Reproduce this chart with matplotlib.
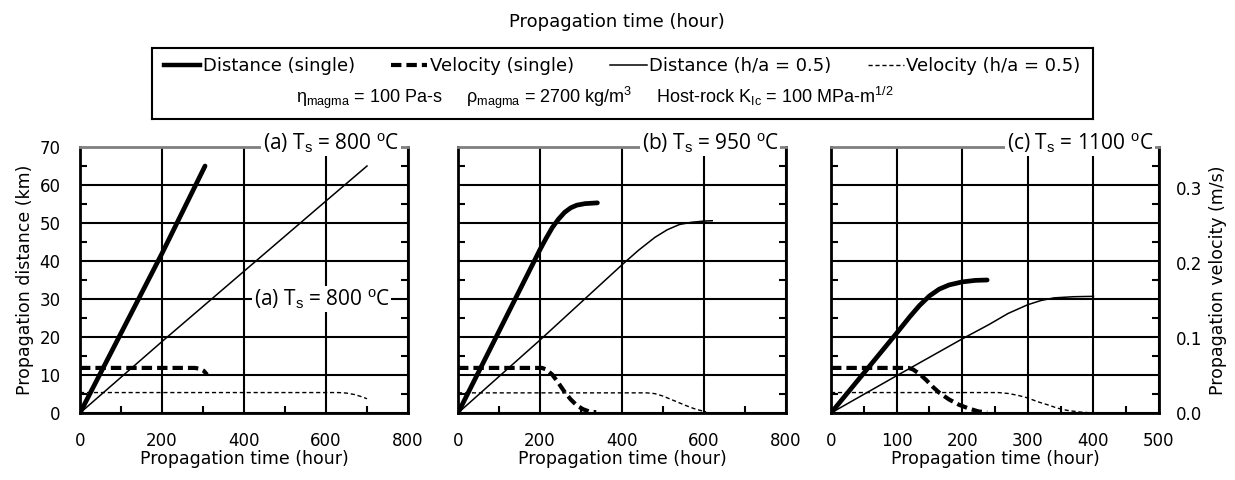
import matplotlib
matplotlib.use("Agg")
import matplotlib.pyplot as plt
from matplotlib.ticker import MultipleLocator
from matplotlib.lines import Line2D

plt.rcParams['font.family'] = ['DejaVu Sans']
plt.rcParams['mathtext.fontset'] = 'custom'
plt.rcParams['mathtext.rm'] = 'Liberation Sans'
plt.rcParams['mathtext.it'] = 'Liberation Sans'

# ---- data (time in hours, distance in km, velocity in m/s)
# (a) Ts = 800 C
a_dist_single_t = [0, 100, 200, 305]
a_dist_single = [0, 21, 42, 65]
a_vel_single_t = [0, 280, 292, 302, 310]
a_vel_single = [0.060, 0.060, 0.059, 0.056, 0.051]
a_dist_ha_t = [0, 200, 400, 600, 700]
a_dist_ha = [0, 18.8, 37.3, 55.8, 65]
a_vel_ha_t = [0, 630, 650, 670, 685, 700]
a_vel_ha = [0.0272, 0.0272, 0.0265, 0.0245, 0.022, 0.019]

# (b) Ts = 950 C
b_dist_single_t = [0, 100, 200, 215, 230, 245, 260, 275, 290, 310, 340]
b_dist_single = [0, 21.5, 43, 46, 48.8, 51, 52.8, 54, 54.7, 55.1, 55.3]
b_vel_single_t = [0, 205, 215, 230, 245, 260, 275, 290, 305, 320, 337]
b_vel_single = [0.060, 0.060, 0.058, 0.051, 0.040, 0.028, 0.018, 0.010, 0.005, 0.002, 0.001]
b_dist_ha_t = [0, 200, 400, 440, 480, 510, 540, 570, 600, 620]
b_dist_ha = [0, 19.2, 39, 42.8, 46.2, 48.2, 49.6, 50.2, 50.5, 50.6]
b_vel_ha_t = [0, 460, 480, 500, 520, 540, 560, 580, 605]
b_vel_ha = [0.0268, 0.0268, 0.0258, 0.0225, 0.018, 0.0135, 0.009, 0.005, 0.0015]

# (c) Ts = 1100 C
c_dist_single_t = [0, 50, 100, 120, 135, 150, 165, 180, 200, 220, 238]
c_dist_single = [0, 10.5, 21, 25.3, 28.3, 30.8, 32.6, 33.7, 34.5, 34.9, 35]
c_vel_single_t = [0, 118, 125, 135, 145, 155, 165, 180, 195, 210, 225, 238]
c_vel_single = [0.060, 0.060, 0.058, 0.052, 0.044, 0.035, 0.027, 0.018, 0.011, 0.006, 0.002, 0.001]
c_dist_ha_t = [0, 100, 200, 240, 270, 300, 320, 340, 370, 400]
c_dist_ha = [0, 9.8, 19.5, 23.2, 26.2, 28.5, 29.6, 30.3, 30.6, 30.7]
c_vel_ha_t = [0, 255, 270, 285, 300, 315, 330, 345, 360, 380, 400]
c_vel_ha = [0.0272, 0.0272, 0.026, 0.0235, 0.020, 0.015, 0.011, 0.0065, 0.0035, 0.0012, 0.0]

panels = [
    ("(a) T$_\\mathrm{s}$ = 800 $^\\mathrm{o}$C", 800, 200,
     a_dist_single_t, a_dist_single, a_vel_single_t, a_vel_single,
     a_dist_ha_t, a_dist_ha, a_vel_ha_t, a_vel_ha),
    ("(b) T$_\\mathrm{s}$ = 950 $^\\mathrm{o}$C", 800, 200,
     b_dist_single_t, b_dist_single, b_vel_single_t, b_vel_single,
     b_dist_ha_t, b_dist_ha, b_vel_ha_t, b_vel_ha),
    ("(c) T$_\\mathrm{s}$ = 1100 $^\\mathrm{o}$C", 500, 100,
     c_dist_single_t, c_dist_single, c_vel_single_t, c_vel_single,
     c_dist_ha_t, c_dist_ha, c_vel_ha_t, c_vel_ha),
]

W, H = 1235, 480
fig = plt.figure(figsize=(W / 100, H / 100), dpi=100)

lefts = [80, 458, 831]
label_x = [0.765, 0.769, 0.759]
ax_w, ax_top, ax_bot = 328, 147, 413

vel_single_style = dict(color='black', lw=3, linestyle=(0, (2.5, 1.2)))
vel_ha_style = dict(color='black', lw=1, linestyle=(0, (3, 2)))
label_font = ['Open Sans', 'DejaVu Sans']

for i, (title, xmax, xstep, dst, ds, vst, vs, dht, dh, vht, vh) in enumerate(panels):
    ax = fig.add_axes([lefts[i] / W, (H - ax_bot) / H, ax_w / W, (ax_bot - ax_top) / H])
    vax = ax.twinx()

    ax.plot(dst, ds, color='black', lw=3.4, solid_capstyle='round', solid_joinstyle='round', zorder=4)
    ax.plot(dht, dh, color='black', lw=1.1, zorder=4)
    vax.plot(vst, vs, **vel_single_style, zorder=4)
    vax.plot(vht, vh, **vel_ha_style, zorder=4)

    ax.set_xlim(0, xmax)
    ax.set_ylim(0, 70)
    vax.set_ylim(0, 0.354)

    ax.xaxis.set_major_locator(MultipleLocator(xstep))
    ax.xaxis.set_minor_locator(MultipleLocator(xstep / 2))
    ax.yaxis.set_major_locator(MultipleLocator(10))
    ax.yaxis.set_minor_locator(MultipleLocator(5))
    ax.grid(True, which='major', color='black', lw=1.5)
    ax.set_axisbelow(True)

    ax.tick_params(which='both', direction='in', right=True, top=False,
                   labelsize=12, width=1.5)
    ax.tick_params(which='major', length=0)
    ax.tick_params(which='minor', length=5)
    ax.tick_params(axis='x', pad=14)
    ax.tick_params(axis='y', pad=14)
    if i > 0:
        ax.tick_params(axis='y', labelleft=False)
    else:
        ax.set_ylabel("Propagation distance (km)", fontsize=12.5, labelpad=4)

    for side in ['left', 'right', 'bottom']:
        ax.spines[side].set_linewidth(2)
    ax.spines['top'].set_color('#808080')
    ax.spines['top'].set_linewidth(2)
    for s in vax.spines.values():
        s.set_visible(False)

    vax.yaxis.set_major_locator(MultipleLocator(0.1))
    vax.tick_params(length=0, labelsize=12, pad=12)
    if i == 2:
        vax.set_yticklabels([f"{v:.1f}" for v in vax.get_yticks()])
        vax.set_ylabel("Propagation velocity (m/s)", fontsize=12.5, labelpad=5)
    else:
        vax.tick_params(labelright=False)

    ax.set_xlabel("Propagation time (hour)", fontsize=12.5, labelpad=0)

    vax.text(label_x[i], 1.015, title, transform=ax.transAxes, ha='center', va='center',
             fontsize=15, family=label_font, zorder=10,
             bbox=dict(facecolor='white', edgecolor='none', pad=1.0))
    if i == 0:
        vax.text(0.737, 30 / 70, title, transform=ax.transAxes, ha='center', va='center',
                 fontsize=15, family=label_font, zorder=10,
                 bbox=dict(facecolor='white', edgecolor='none', pad=1.0))

# top caption
fig.text(617 / W, 1 - 22 / H, "Propagation time (hour)", ha='center', va='center', fontsize=13)

# legend box
lax = fig.add_axes([152 / W, (H - 119) / H, (1093 - 152) / W, 71 / H])
lax.set_xticks([])
lax.set_yticks([])
for s in lax.spines.values():
    s.set_linewidth(1.5)
handles = [
    Line2D([], [], color='black', lw=3.2),
    Line2D([], [], **vel_single_style),
    Line2D([], [], color='black', lw=1.1),
    Line2D([], [], **vel_ha_style),
]
names = ["Distance (single)", "Velocity (single)", "Distance (h/a = 0.5)", "Velocity (h/a = 0.5)"]
lax.legend(handles, names, ncol=4, loc='upper center', bbox_to_anchor=(0.5, 1.1),
           frameon=False, fontsize=13, handlelength=2.0, handletextpad=0.15,
           columnspacing=2.0)
lax.text(0.471, 0.3,
         "\u03b7$_\\mathrm{magma}$ = 100 Pa-s     \u03c1$_\\mathrm{magma}$ = 2700 kg/m$^\\mathrm{3}$"
         "     Host-rock K$_\\mathrm{Ic}$ = 100 MPa-m$^\\mathrm{1/2}$",
         transform=lax.transAxes, ha='center', va='center', fontsize=13,
         family=['Liberation Sans'])

fig.savefig("out.png", dpi=100)
